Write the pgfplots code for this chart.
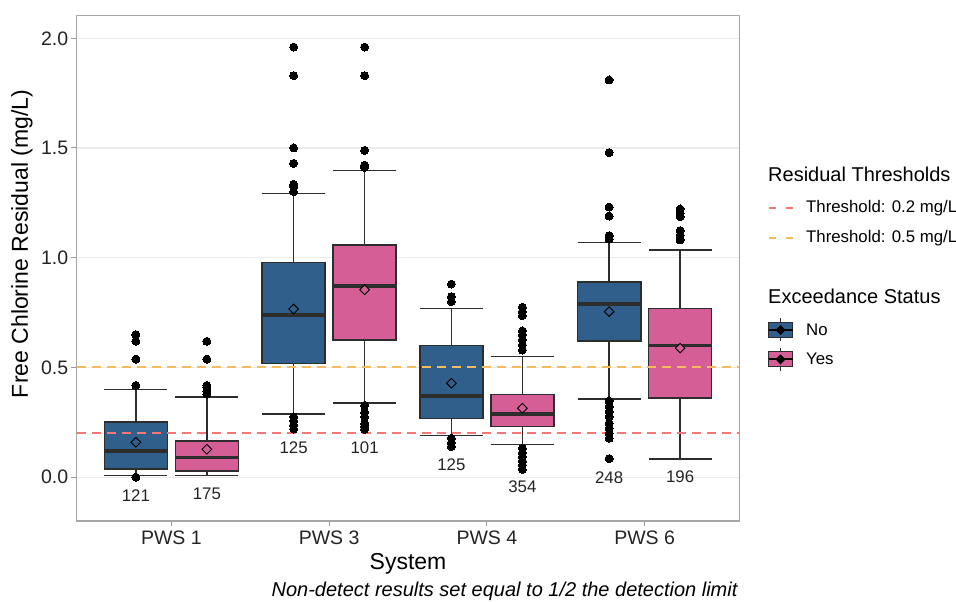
\documentclass[border=0pt]{standalone}
\usepackage{fontspec}
\setmainfont{Liberation Sans}
\usepackage{pgfplots}
\pgfplotsset{compat=1.18}
\usepgfplotslibrary{statistics}

\definecolor{boxno}{RGB}{47,95,138}
\definecolor{boxyes}{RGB}{214,94,150}
\definecolor{edge}{RGB}{45,45,45}
\definecolor{limitlow}{RGB}{248,118,118}
\definecolor{limithigh}{RGB}{247,186,92}
\definecolor{panelgrid}{RGB}{235,235,235}
\definecolor{ticktext}{RGB}{35,35,35}

\pgfplotsset{
  pws/.style={draw=edge, line width=1.6pt, mark=*, mark size=4pt,
    mark options={fill=black, draw=black, solid, line width=0pt}},
}

\begin{document}
\begin{tikzpicture}[x=1pt,y=1pt]
\useasboundingbox (0,0) rectangle (956,602);
\begin{axis}[
  at={(76.7pt,81pt)}, anchor=south west,
  scale only axis, width=662.6pt, height=505.3pt,
  xmin=0.4, xmax=4.6, ymin=-0.2, ymax=2.103,
  xtick={1,2,3,4}, xticklabels={PWS 1,PWS 3,PWS 4,PWS 6},
  ytick={0,0.5,1,1.5,2},
  ticklabel style={font=\fontsize{19.5}{21}\selectfont, text=ticktext},
  xticklabel style={yshift=-1pt},
  yticklabel style={xshift=0.5pt, /pgf/number format/.cd, fixed, fixed zerofill, precision=1, assume math mode=true},
  tick align=outside, major tick length=5.5pt,
  tick style={color=gray!80, line width=1pt},
  xtick pos=bottom, ytick pos=left,
  axis line style={color=gray!70, line width=1.2pt},
  ymajorgrids, major grid style={color=panelgrid, line width=1.2pt},
  boxplot/draw direction=y,
  boxplot/box extend=0.4, boxplot/whisker extend=0.4,
  boxplot/every median/.style={line width=3.6pt},
  boxplot/every whisker/.style={line width=1.6pt},
  boxplot/every box/.style={line width=1.6pt},
  clip=false,
]
% PWS 1
\addplot[pws, fill=boxno, boxplot prepared={draw position=0.775,
  lower whisker=0.008, lower quartile=0.037, median=0.119,
  upper quartile=0.250, upper whisker=0.400}]
  table[row sep=\\, y index=0] {y\\ 0.649\\ 0.620\\ 0.538\\ 0.418\\ 0.000\\};
\addplot[pws, fill=boxyes, boxplot prepared={draw position=1.225,
  lower whisker=0.008, lower quartile=0.028, median=0.089,
  upper quartile=0.164, upper whisker=0.364}]
  table[row sep=\\, y index=0] {y\\ 0.619\\ 0.538\\ 0.418\\ 0.408\\ 0.392\\ 0.378\\};
% PWS 3
\addplot[pws, fill=boxno, boxplot prepared={draw position=1.775,
  lower whisker=0.289, lower quartile=0.517, median=0.739,
  upper quartile=0.979, upper whisker=1.293}]
  table[row sep=\\, y index=0] {y\\ 1.960\\ 1.830\\ 1.500\\ 1.430\\ 1.335\\ 1.324\\ 1.301\\
    0.275\\ 0.257\\ 0.237\\ 0.219\\};
\addplot[pws, fill=boxyes, boxplot prepared={draw position=2.225,
  lower whisker=0.338, lower quartile=0.626, median=0.872,
  upper quartile=1.058, upper whisker=1.398}]
  table[row sep=\\, y index=0] {y\\ 1.960\\ 1.830\\ 1.489\\ 1.422\\ 1.412\\
    0.327\\ 0.295\\ 0.275\\ 0.245\\ 0.231\\ 0.218\\};
% PWS 4
\addplot[pws, fill=boxno, boxplot prepared={draw position=2.775,
  lower whisker=0.189, lower quartile=0.268, median=0.370,
  upper quartile=0.599, upper whisker=0.769}]
  table[row sep=\\, y index=0] {y\\ 0.880\\ 0.822\\ 0.800\\ 0.177\\ 0.157\\ 0.139\\};
\addplot[pws, fill=boxyes, boxplot prepared={draw position=3.225,
  lower whisker=0.149, lower quartile=0.230, median=0.288,
  upper quartile=0.376, upper whisker=0.549}]
  table[row sep=\\, y index=0] {y\\ 0.774\\ 0.754\\ 0.736\\ 0.666\\ 0.648\\ 0.625\\ 0.602\\ 0.579\\
    0.131\\ 0.111\\ 0.093\\ 0.073\\ 0.055\\ 0.035\\};
% PWS 6
\addplot[pws, fill=boxno, boxplot prepared={draw position=3.775,
  lower whisker=0.356, lower quartile=0.619, median=0.790,
  upper quartile=0.889, upper whisker=1.070}]
  table[row sep=\\, y index=0] {y\\ 1.810\\ 1.479\\ 1.231\\ 1.190\\ 1.100\\ 1.085\\
    0.347\\ 0.321\\ 0.298\\ 0.275\\ 0.245\\ 0.222\\ 0.200\\ 0.177\\ 0.084\\};
\addplot[pws, fill=boxyes, boxplot prepared={draw position=4.225,
  lower whisker=0.082, lower quartile=0.360, median=0.599,
  upper quartile=0.769, upper whisker=1.034}]
  table[row sep=\\, y index=0] {y\\ 1.222\\ 1.202\\ 1.187\\ 1.123\\ 1.103\\ 1.081\\};

% means
\addplot[only marks, mark=square*, mark size=3.4pt,
  mark options={rotate=45, fill=boxno, draw=black, line width=0.9pt}]
  coordinates {(0.775,0.159) (1.775,0.766) (2.775,0.428) (3.775,0.754)};
\addplot[only marks, mark=square*, mark size=3.4pt,
  mark options={rotate=45, fill=boxyes, draw=black, line width=0.9pt}]
  coordinates {(1.225,0.127) (2.225,0.854) (3.225,0.314) (4.225,0.588)};

% thresholds
\addplot[draw=limithigh, line width=2pt, dash pattern=on 9pt off 6pt, mark=none]
  coordinates {(0.4,0.5) (4.6,0.5)};
\addplot[draw=limitlow, line width=2pt, dash pattern=on 9pt off 6pt, mark=none]
  coordinates {(0.4,0.2) (4.6,0.2)};

% sample sizes
\begin{scope}[every node/.style={font=\fontsize{16.8}{18}\selectfont, text=ticktext}]
\node at (axis cs:0.775,-0.086) {121};
\node at (axis cs:1.225,-0.074) {175};
\node at (axis cs:1.775,0.134) {125};
\node at (axis cs:2.225,0.134) {101};
\node at (axis cs:2.775,0.057) {125};
\node at (axis cs:3.225,-0.046) {354};
\node at (axis cs:3.775,-0.001) {248};
\node at (axis cs:4.225,0.000) {196};
\end{scope}
\end{axis}

% axis titles and caption
\node[font=\fontsize{23}{26}\selectfont] at (408,38) {System};
\node[font=\fontsize{23}{26}\selectfont, rotate=90] at (22,358) {Free Chlorine Residual (mg/L)};
\node[font=\fontsize{20}{22}\itshape, anchor=east] at (741,11) {Non-detect results set equal to 1/2 the detection limit};

% legend
\node[font=\fontsize{20}{22}\selectfont, anchor=west, inner sep=0pt] at (768,427.7) {Residual Thresholds};
\draw[limitlow, line width=1.8pt, dash pattern=on 7pt off 10pt] (769,394.3) -- (794,394.3);
\node[font=\fontsize{16.8}{18}\selectfont, anchor=west, inner sep=0pt] at (806,394.3) {Threshold: 0.2 mg/L};
\draw[limithigh, line width=1.8pt, dash pattern=on 7pt off 10pt] (769,364.3) -- (794,364.3);
\node[font=\fontsize{16.8}{18}\selectfont, anchor=west, inner sep=0pt] at (806,364.3) {Threshold: 0.5 mg/L};

\node[font=\fontsize{20}{22}\selectfont, anchor=west, inner sep=0pt] at (768,305.3) {Exceedance Status};
\foreach \yy/\cc/\tt in {272/boxno/No, 242.7/boxyes/Yes} {
  \draw[edge, line width=1pt] (780.5,\yy-11.5) -- (780.5,\yy+11.5);
  \draw[fill=\cc, draw=edge, line width=1pt] (768.5,\yy-7.3) rectangle (792.5,\yy+7.3);
  \draw[black, line width=1.8pt] (768.5,\yy) -- (792.5,\yy);
  \fill[black] (780.5,\yy+5) -- (785.5,\yy) -- (780.5,\yy-5) -- (775.5,\yy) -- cycle;
  \node[font=\fontsize{16.8}{18}\selectfont, anchor=west, inner sep=0pt] at (806,\yy) {\tt};
}
\end{tikzpicture}
\end{document}
